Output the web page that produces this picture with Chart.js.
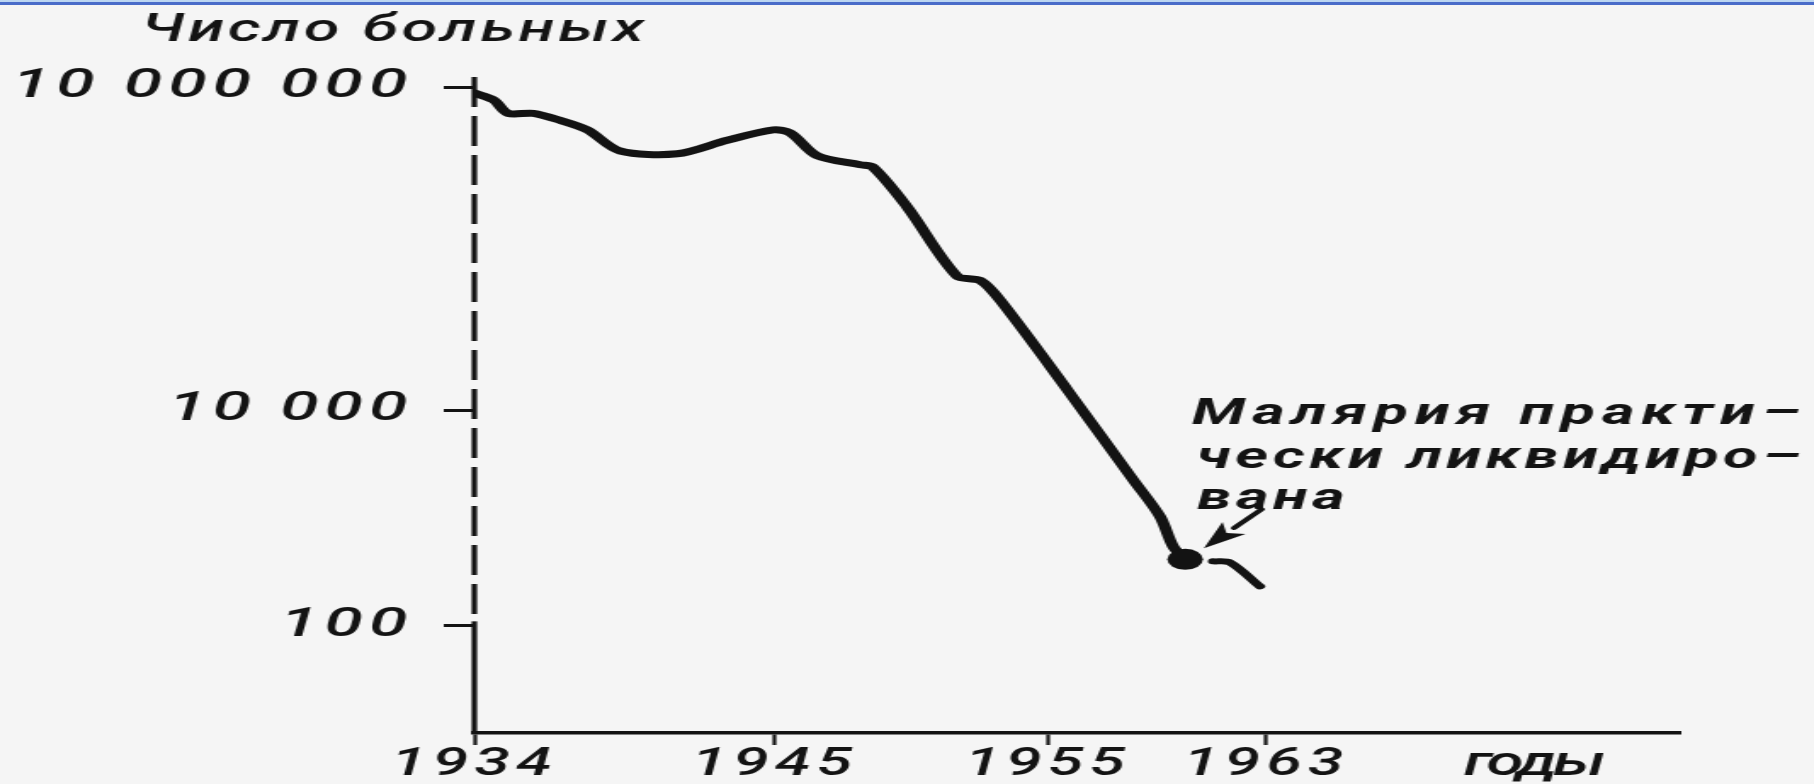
<!DOCTYPE html>
<html>
<head>
<meta charset="utf-8">
<script src="https://cdn.jsdelivr.net/npm/chart.js@4.4.1/dist/chart.umd.min.js"></script>
<style>
html,body{margin:0;padding:0;background:#f5f5f5;overflow:hidden;}
#wrap{position:relative;width:1814px;height:784px;}
#c{position:absolute;left:0;top:0;}
#topband{position:absolute;left:0;top:0;width:1814px;height:5px;background:linear-gradient(#bcd6f2 0,#bcd6f2 2px,#4a6cc9 2px,#4a6cc9 5px);}
</style>
</head>
<body>
<div id="wrap">
<canvas id="c" width="1067" height="784" style="width:1814px;height:784px"></canvas>
<div id="topband"></div>
</div>
<script>
// ---- data ----
const yTickValues = [100, 10000, 10000000];
const yTickLabels = ['100', '10 000', '10 000 000'];
const xTickValues = [1934, 1945, 1955, 1963];
const xTickLabels = ['1934', '1945', '1955', '1963'];

const mainYears = [1934, 1934.7, 1935.24, 1936.16, 1937.15, 1938.14, 1939.34, 1941.43, 1943.26, 1944.94, 1945.57, 1946.56, 1948.13, 1948.6, 1949.85, 1951.68, 1952.52, 1953.25, 1955.71, 1958.12, 1959.11, 1959.59, 1960.03];
const mainCases = [8800000, 7600000, 5700000, 5700000, 4900000, 4000000, 2550000, 2400000, 3200000, 4000000, 3750000, 2300000, 1900000, 1800000, 770000, 175000, 160000, 105000, 15500, 2260, 1025, 540, 410];

const tailYears = [1961.05, 1961.67, 1962.77];
const tailCases = [393, 384, 230];

const yTitle = 'Число больных';
const xTitle = 'годы';
const noteLines = ['Малярия практи–', 'чески ликвидиро–', 'вана'];

// ---- chart ----
const INK = '#131313';
const FONT = 'Roboto, "Liberation Sans", sans-serif';

function fitText(ctx, text, x, y, width, font, ls) {
  ctx.font = font;
  ctx.letterSpacing = '0px';
  const n = [...text].length;
  if (ls === undefined) {
    const w = ctx.measureText(text).width;
    ls = (width - w) / n;
  }
  ctx.letterSpacing = ls + 'px';
  ctx.textAlign = 'left';
  ctx.textBaseline = 'middle';
  ctx.fillText(text, x, y);
  return ls;
}

const decor = {
  id: 'decor',
  beforeDraw(chart) {
    chart.ctx.letterSpacing = '3.5px';
  },
  beforeDatasetsDraw(chart) {
    const {ctx, scales: {y}, chartArea} = chart;
    const split = y.getPixelForValue(yTickValues[0]) - 4;
    ctx.save();
    ctx.strokeStyle = INK;
    ctx.lineWidth = 3.2;
    // dashed upper part of the vertical axis
    ctx.setLineDash([30, 9]);
    ctx.beginPath();
    ctx.moveTo(chartArea.left, chartArea.top);
    ctx.lineTo(chartArea.left, split);
    ctx.stroke();
    // solid lower part
    ctx.setLineDash([]);
    ctx.beginPath();
    ctx.moveTo(chartArea.left, split);
    ctx.lineTo(chartArea.left, chartArea.bottom + 1);
    ctx.stroke();
    ctx.restore();
  },
  afterDraw(chart) {
    const {ctx} = chart;
    ctx.save();
    ctx.fillStyle = INK;
    ctx.strokeStyle = INK;
    // axis titles
    fitText(ctx, yTitle, 83, 31, 298, 'italic 500 38px ' + FONT);
    fitText(ctx, xTitle, 861, 765, 81, 'italic 500 40px ' + FONT);

    // annotation
    const f = 'italic bold 37px ' + FONT;
    fitText(ctx, noteLines[0], 701, 415, 362, f);
    const ls2 = fitText(ctx, noteLines[1], 704, 459, 358, f);
    fitText(ctx, noteLines[2], 704, 500, 0, f, ls2);

    // arrow to the final point
    const meta = chart.getDatasetMeta(0);
    const dot = meta.data[meta.data.length - 1];
    const tip = {x: dot.x + 11, y: dot.y - 11};
    const tail = {x: dot.x + 45, y: dot.y - 50};
    const dx = tip.x - tail.x, dy = tip.y - tail.y;
    const len = Math.hypot(dx, dy);
    const ux = dx / len, uy = dy / len;
    const headLen = 27, headHalf = 9;
    const bx = tip.x - ux * headLen, by = tip.y - uy * headLen;
    ctx.lineWidth = 3.8;
    ctx.lineCap = 'round';
    ctx.beginPath();
    ctx.moveTo(tail.x, tail.y);
    ctx.lineTo(bx, by);
    ctx.stroke();
    ctx.beginPath();
    ctx.moveTo(tip.x, tip.y);
    ctx.lineTo(bx - uy * headHalf, by + ux * headHalf);
    ctx.lineTo(tip.x - ux * headLen * 0.75, tip.y - uy * headLen * 0.75);
    ctx.lineTo(bx + uy * headHalf, by - ux * headHalf);
    ctx.closePath();
    ctx.fill();
    ctx.restore();
  }
};

new Chart(document.getElementById('c'), {
  type: 'line',
  data: {
    datasets: [
      {
        data: mainYears.map((yr, i) => ({x: yr, y: mainCases[i]})),
        borderColor: INK,
        backgroundColor: INK,
        borderWidth: 7,
        tension: 0.3,
        borderCapStyle: 'round',
        borderJoinStyle: 'round',
        pointRadius: c => (c.dataIndex === mainYears.length - 1 ? 10.5 : 0),
        pointBorderWidth: 0,
        pointBackgroundColor: INK,
        fill: false
      },
      {
        data: tailYears.map((yr, i) => ({x: yr, y: tailCases[i]})),
        borderColor: INK,
        borderWidth: 6,
        tension: 0.3,
        borderCapStyle: 'round',
        borderJoinStyle: 'round',
        pointRadius: 0,
        fill: false
      }
    ]
  },
  options: {
    responsive: false,
    devicePixelRatio: 1,
    animation: false,
    layout: {padding: {top: 77, right: 79, left: 0, bottom: 0}},
    plugins: {legend: {display: false}, tooltip: {enabled: false}, title: {display: false}},
    scales: {
      x: {
        type: 'linear',
        min: 1934,
        max: 1978.14,
        afterBuildTicks: s => { s.ticks = xTickValues.map(v => ({value: v})); },
        afterFit: s => { s.height = 51; },
        ticks: {
          autoSkip: false,
          maxRotation: 0,
          padding: 0,
          color: INK,
          font: {family: FONT, style: 'italic', weight: 500, size: 38, lineHeight: 1.1},
          callback: v => { const i = xTickValues.indexOf(v); return i >= 0 ? xTickLabels[i] : ''; }
        },
        grid: {drawOnChartArea: false, drawTicks: true, tickLength: 12, tickWidth: 2.2, tickColor: INK},
        border: {display: true, color: INK, width: 3.5}
      },
      y: {
        type: 'logarithmic',
        min: 10,
        max: 12400000,
        afterBuildTicks: s => { s.ticks = yTickValues.map(v => ({value: v})); },
        afterFit: s => { s.width = 279; },
        ticks: {
          autoSkip: false,
          padding: 18,
          color: INK,
          font: {family: FONT, style: 'italic', weight: 500, size: 41},
          callback: v => { const i = yTickValues.indexOf(v); return i >= 0 ? yTickLabels[i] : ''; }
        },
        grid: {drawOnChartArea: false, drawTicks: true, tickLength: 18, tickWidth: 3, tickColor: INK},
        border: {display: false}
      }
    }
  },
  plugins: [decor]
});
</script>
</body>
</html>
